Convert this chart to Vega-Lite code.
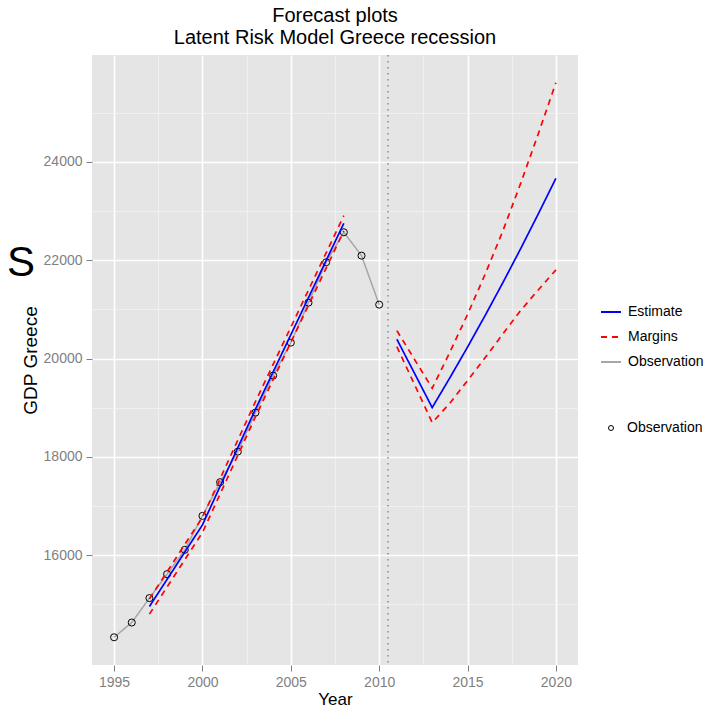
{
  "$schema": "https://vega.github.io/schema/vega-lite/v6.json",
  "width": 486,
  "height": 610,
  "autosize": {"type": "none"},
  "padding": {"left": 92, "top": 55, "right": 136, "bottom": 41},
  "background": "white",
  "title": {
    "text": ["Forecast plots", "Latent Risk Model Greece recession"],
    "fontSize": 20,
    "font": "Liberation Sans",
    "fontWeight": "normal",
    "color": "black",
    "anchor": "middle",
    "frame": "group",
    "lineHeight": 22,
    "baseline": "alphabetic",
    "offset": 12,
    "dy": 22
  },
  "config": {
    "view": {"fill": "#E5E5E5", "stroke": null},
    "font": "Liberation Sans",
    "axis": {
      "domain": false,
      "labelFont": "Liberation Sans",
      "labelFontSize": 14,
      "labelColor": "#7F7F7F",
      "tickSize": 6,
      "tickWidth": 1,
      "labelPadding": 4,
      "titleFont": "Liberation Sans",
      "titleFontWeight": "normal",
      "titleColor": "black",
      "labelOverlap": false,
      "labelFlush": false
    },
    "legend": {
      "layout": {"right": {"anchor": "middle", "direction": "vertical", "margin": 36}},
      "labelFont": "Liberation Sans",
      "labelFontSize": 14,
      "labelColor": "black",
      "padding": 0,
      "offset": 6,
      "rowPadding": 7
    }
  },
  "datasets": {
    "series": [
      {"year": 1995, "value": 14330, "type": "Observation", "seg": "obs"},
      {"year": 1996, "value": 14630, "type": "Observation", "seg": "obs"},
      {"year": 1997, "value": 15127, "type": "Observation", "seg": "obs"},
      {"year": 1998, "value": 15615, "type": "Observation", "seg": "obs"},
      {"year": 1999, "value": 16109, "type": "Observation", "seg": "obs"},
      {"year": 2000, "value": 16800, "type": "Observation", "seg": "obs"},
      {"year": 2001, "value": 17486, "type": "Observation", "seg": "obs"},
      {"year": 2002, "value": 18108, "type": "Observation", "seg": "obs"},
      {"year": 2003, "value": 18902, "type": "Observation", "seg": "obs"},
      {"year": 2004, "value": 19654, "type": "Observation", "seg": "obs"},
      {"year": 2005, "value": 20325, "type": "Observation", "seg": "obs"},
      {"year": 2006, "value": 21139, "type": "Observation", "seg": "obs"},
      {"year": 2007, "value": 21960, "type": "Observation", "seg": "obs"},
      {"year": 2008, "value": 22570, "type": "Observation", "seg": "obs"},
      {"year": 2009, "value": 22095, "type": "Observation", "seg": "obs"},
      {"year": 2010, "value": 21098, "type": "Observation", "seg": "obs"},

      {"year": 1997, "value": 14956, "type": "Estimate", "seg": "e1"},
      {"year": 1998, "value": 15510, "type": "Estimate", "seg": "e1"},
      {"year": 1999, "value": 16063, "type": "Estimate", "seg": "e1"},
      {"year": 2000, "value": 16617, "type": "Estimate", "seg": "e1"},
      {"year": 2001, "value": 17402, "type": "Estimate", "seg": "e1"},
      {"year": 2002, "value": 18187, "type": "Estimate", "seg": "e1"},
      {"year": 2003, "value": 18972, "type": "Estimate", "seg": "e1"},
      {"year": 2004, "value": 19728, "type": "Estimate", "seg": "e1"},
      {"year": 2005, "value": 20484, "type": "Estimate", "seg": "e1"},
      {"year": 2006, "value": 21240, "type": "Estimate", "seg": "e1"},
      {"year": 2007, "value": 21997, "type": "Estimate", "seg": "e1"},
      {"year": 2008, "value": 22753, "type": "Estimate", "seg": "e1"},

      {"year": 1997, "value": 15111, "type": "Margins", "seg": "u1"},
      {"year": 1998, "value": 15665, "type": "Margins", "seg": "u1"},
      {"year": 1999, "value": 16218, "type": "Margins", "seg": "u1"},
      {"year": 2000, "value": 16772, "type": "Margins", "seg": "u1"},
      {"year": 2001, "value": 17557, "type": "Margins", "seg": "u1"},
      {"year": 2002, "value": 18342, "type": "Margins", "seg": "u1"},
      {"year": 2003, "value": 19127, "type": "Margins", "seg": "u1"},
      {"year": 2004, "value": 19883, "type": "Margins", "seg": "u1"},
      {"year": 2005, "value": 20639, "type": "Margins", "seg": "u1"},
      {"year": 2006, "value": 21395, "type": "Margins", "seg": "u1"},
      {"year": 2007, "value": 22152, "type": "Margins", "seg": "u1"},
      {"year": 2008, "value": 22908, "type": "Margins", "seg": "u1"},

      {"year": 1997, "value": 14801, "type": "Margins", "seg": "l1"},
      {"year": 1998, "value": 15355, "type": "Margins", "seg": "l1"},
      {"year": 1999, "value": 15908, "type": "Margins", "seg": "l1"},
      {"year": 2000, "value": 16462, "type": "Margins", "seg": "l1"},
      {"year": 2001, "value": 17247, "type": "Margins", "seg": "l1"},
      {"year": 2002, "value": 18032, "type": "Margins", "seg": "l1"},
      {"year": 2003, "value": 18817, "type": "Margins", "seg": "l1"},
      {"year": 2004, "value": 19573, "type": "Margins", "seg": "l1"},
      {"year": 2005, "value": 20329, "type": "Margins", "seg": "l1"},
      {"year": 2006, "value": 21085, "type": "Margins", "seg": "l1"},
      {"year": 2007, "value": 21842, "type": "Margins", "seg": "l1"},
      {"year": 2008, "value": 22598, "type": "Margins", "seg": "l1"},

      {"year": 2011, "value": 20394, "type": "Estimate", "seg": "e2"},
      {"year": 2012, "value": 19700, "type": "Estimate", "seg": "e2"},
      {"year": 2013, "value": 19003, "type": "Estimate", "seg": "e2"},
      {"year": 2014, "value": 19610, "type": "Estimate", "seg": "e2"},
      {"year": 2015, "value": 20235, "type": "Estimate", "seg": "e2"},
      {"year": 2016, "value": 20880, "type": "Estimate", "seg": "e2"},
      {"year": 2017, "value": 21546, "type": "Estimate", "seg": "e2"},
      {"year": 2018, "value": 22233, "type": "Estimate", "seg": "e2"},
      {"year": 2019, "value": 22942, "type": "Estimate", "seg": "e2"},
      {"year": 2020, "value": 23668, "type": "Estimate", "seg": "e2"},

      {"year": 2011, "value": 20569, "type": "Margins", "seg": "u2"},
      {"year": 2012, "value": 19983, "type": "Margins", "seg": "u2"},
      {"year": 2013, "value": 19397, "type": "Margins", "seg": "u2"},
      {"year": 2014, "value": 20130, "type": "Margins", "seg": "u2"},
      {"year": 2015, "value": 20900, "type": "Margins", "seg": "u2"},
      {"year": 2016, "value": 21720, "type": "Margins", "seg": "u2"},
      {"year": 2017, "value": 22600, "type": "Margins", "seg": "u2"},
      {"year": 2018, "value": 23560, "type": "Margins", "seg": "u2"},
      {"year": 2019, "value": 24570, "type": "Margins", "seg": "u2"},
      {"year": 2020, "value": 25613, "type": "Margins", "seg": "u2"},

      {"year": 2011, "value": 20244, "type": "Margins", "seg": "l2"},
      {"year": 2012, "value": 19471, "type": "Margins", "seg": "l2"},
      {"year": 2013, "value": 18698, "type": "Margins", "seg": "l2"},
      {"year": 2014, "value": 19092, "type": "Margins", "seg": "l2"},
      {"year": 2015, "value": 19553, "type": "Margins", "seg": "l2"},
      {"year": 2016, "value": 20021, "type": "Margins", "seg": "l2"},
      {"year": 2017, "value": 20502, "type": "Margins", "seg": "l2"},
      {"year": 2018, "value": 20976, "type": "Margins", "seg": "l2"},
      {"year": 2019, "value": 21397, "type": "Margins", "seg": "l2"},
      {"year": 2020, "value": 21804, "type": "Margins", "seg": "l2"}
    ],
    "divider": [{"year": 2010.5}],
    "note": [{"year": 1989.73, "value": 21946, "label": "S"}]
  },
  "layer": [
    {
      "data": {"name": "divider"},
      "mark": {"type": "rule", "color": "#8C8C8C", "strokeWidth": 1.5, "strokeDash": [1.5, 4.5]},
      "encoding": {
        "x": {
          "field": "year", "type": "quantitative",
          "scale": {"domain": [1993.75, 2021.25], "nice": false, "zero": false},
          "axis": {
            "title": "Year",
            "titleFontSize": 17,
            "titlePadding": 2,
            "format": "d",
            "values": [1995, 1997.5, 2000, 2002.5, 2005, 2007.5, 2010, 2012.5, 2015, 2017.5, 2020],
            "labelExpr": "datum.value % 5 === 0 ? datum.label : ''",
            "gridColor": {"condition": {"test": "datum.value % 5 === 0", "value": "white"}, "value": "#F2F2F2"},
            "gridWidth": {"condition": {"test": "datum.value % 5 === 0", "value": 1.6}, "value": 0.8},
            "tickColor": {"condition": {"test": "datum.value % 5 === 0", "value": "#7F7F7F"}, "value": "transparent"}
          }
        }
      }
    },
    {
      "data": {"name": "series"},
      "transform": [{"filter": "datum.type === 'Observation'"}],
      "mark": {"type": "line", "strokeWidth": 1.5},
      "encoding": {
        "x": {"field": "year", "type": "quantitative", "scale": {"domain": [1993.75, 2021.25], "nice": false, "zero": false}},
        "y": {
          "field": "value", "type": "quantitative",
          "scale": {"domain": [13766, 26177], "nice": false, "zero": false},
          "axis": {
            "title": "GDP Greece",
            "titleFontSize": 19,
            "titlePadding": 3,
            "format": "d",
            "values": [15000, 16000, 17000, 18000, 19000, 20000, 21000, 22000, 23000, 24000, 25000],
            "labelExpr": "datum.value % 2000 === 0 ? datum.label : ''",
            "gridColor": {"condition": {"test": "datum.value % 2000 === 0", "value": "white"}, "value": "#F2F2F2"},
            "gridWidth": {"condition": {"test": "datum.value % 2000 === 0", "value": 1.6}, "value": 0.8},
            "tickColor": {"condition": {"test": "datum.value % 2000 === 0", "value": "#7F7F7F"}, "value": "transparent"}
          }
        },
        "color": {
          "field": "type", "type": "nominal",
          "scale": {"domain": ["Estimate", "Margins", "Observation"], "range": ["#0000FF", "#FF0000", "#A6A6A6"]},
          "legend": {"title": null, "symbolType": "stroke", "symbolSize": 400, "symbolStrokeWidth": 2, "labelOffset": 6, "padding": 16}
        },
        "strokeDash": {
          "field": "type", "type": "nominal",
          "scale": {"domain": ["Estimate", "Margins", "Observation"], "range": [[1, 0], [6, 5], [1, 0]]},
          "legend": {"title": null}
        },
        "detail": {"field": "seg"}
      }
    },
    {
      "data": {"name": "series"},
      "transform": [{"filter": "datum.type === 'Observation'"}],
      "mark": {"type": "point", "filled": false, "color": "black", "size": 50, "strokeWidth": 1, "opacity": 1},
      "encoding": {
        "x": {"field": "year", "type": "quantitative", "scale": {"domain": [1993.75, 2021.25], "nice": false, "zero": false}},
        "y": {"field": "value", "type": "quantitative", "scale": {"domain": [13766, 26177], "nice": false, "zero": false}},
        "shape": {
          "field": "type", "type": "nominal",
          "scale": {"domain": ["Observation"], "range": ["circle"]},
          "legend": {"title": null, "symbolSize": 25, "symbolStrokeColor": "black", "symbolStrokeWidth": 1, "symbolOffset": 20, "labelOffset": 9}
        }
      }
    },
    {
      "data": {"name": "series"},
      "transform": [{"filter": "datum.type !== 'Observation'"}],
      "mark": {"type": "line", "strokeWidth": 1.7},
      "encoding": {
        "x": {"field": "year", "type": "quantitative", "scale": {"domain": [1993.75, 2021.25], "nice": false, "zero": false}},
        "y": {"field": "value", "type": "quantitative", "scale": {"domain": [13766, 26177], "nice": false, "zero": false}},
        "color": {
          "field": "type", "type": "nominal",
          "scale": {"domain": ["Estimate", "Margins", "Observation"], "range": ["#0000FF", "#FF0000", "#A6A6A6"]}
        },
        "strokeDash": {
          "field": "type", "type": "nominal",
          "scale": {"domain": ["Estimate", "Margins", "Observation"], "range": [[1, 0], [6, 5], [1, 0]]}
        },
        "detail": {"field": "seg"}
      }
    },
    {
      "data": {"name": "note"},
      "mark": {"type": "text", "font": "Liberation Sans", "fontSize": 42, "color": "black", "align": "center", "baseline": "middle"},
      "encoding": {
        "x": {"field": "year", "type": "quantitative", "scale": {"domain": [1993.75, 2021.25], "nice": false, "zero": false}},
        "y": {"field": "value", "type": "quantitative", "scale": {"domain": [13766, 26177], "nice": false, "zero": false}},
        "text": {"field": "label"}
      }
    }
  ]
}
